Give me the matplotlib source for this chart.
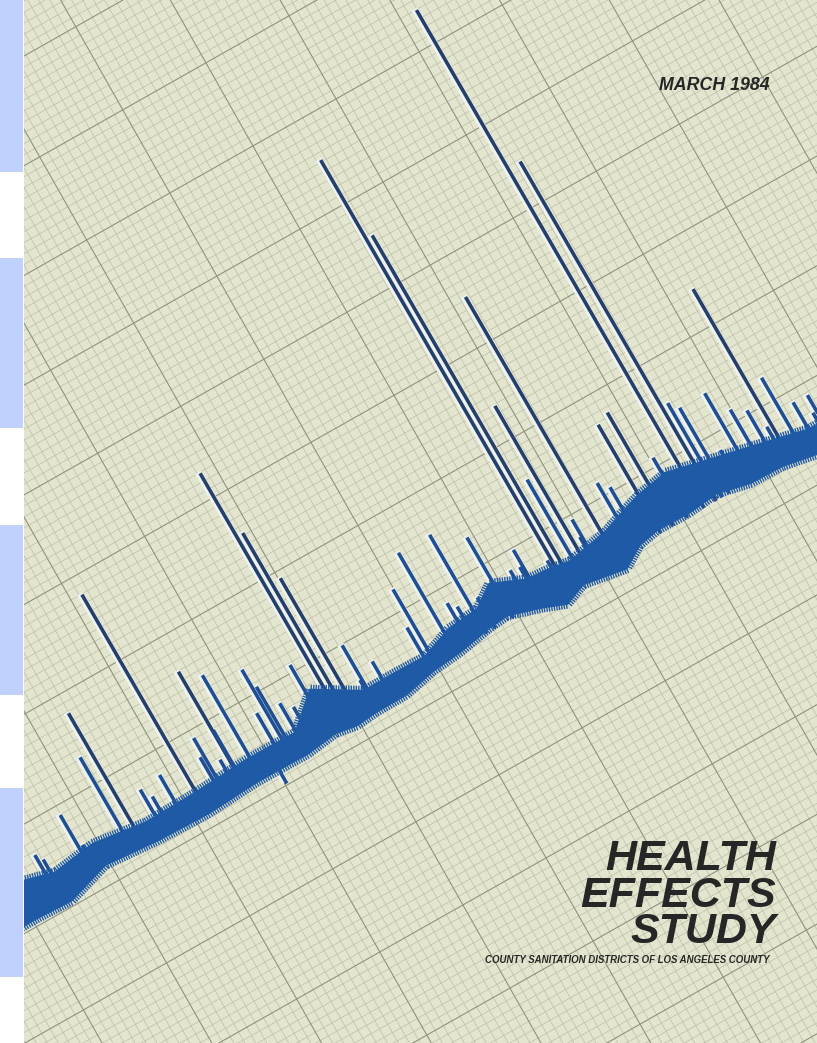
import numpy as np
import matplotlib
matplotlib.use('Agg')
import matplotlib.pyplot as plt
from matplotlib.collections import LineCollection
from matplotlib.patches import Rectangle, Polygon
from matplotlib.transforms import Affine2D
import matplotlib.patheffects as pe

# blue index tabs down the left margin (pixel rows)
tab_top = [0, 258, 525, 788]
tab_bottom = [172, 428, 695, 977]

# recorder band: distance along the chart, upper / lower edge of the pen band
band_u = [-30, 0, 40, 87, 144, 202, 260, 318, 352, 375, 398, 433, 468, 502,
          537, 560, 595, 618, 641, 687, 710, 733, 768, 802, 837, 872, 914, 960]
band_top = [20, 20, 9, 15, 7, 8, 11, 10, 40, 26, 12, 12, 11, 23,
            26, 42, 27, 25, 21, 29, 37, 44, 50, 42, 34, 26, 16, 16]
band_bot = [-22, -22, -24, -10, -15, -17, -14, -15, -11, -15, -13, -13, -6, -3,
            3, 5, -6, -15, -6, -14, 0, 4, 3, 6, -2, -3, -11, -11]

# spikes: distance along the chart, height above the baseline
spike_u = [784, 626, 633, 798, 683, 654, 365, 202, 131, 884,
           372, 382, 497, 533, 564, 474, 402, 347, 303, 266,
           247, 420, 598, 645, 664, 734, 748, 704, 713, 765,
           805, 813, 842, 856, 870, 899, 914, 930, 119, 73,
           31, 36, 179, 227, 223, 307, 319, 329, 926, 827,
           879, 248, 294, 400, 467, 514, 521, 585, 543, 595,
           622, 662, 155, 162, 77, 239, 285]
spike_h = [575, 493, 402, 392, 302, 193, 282, 236, 140, 195,
           209, 151, 114, 114, 93, 85, 62, 71, 91, 106,
           121, 33, 59, 113, 56, 125, 131, 75, 65, 69,
           109, 99, 99, 72, 63, 84, 47, 46, 96, 56,
           34, 26, 41, 56, 36, 69, 43, 33, 28, 42,
           39, 53, 46, 23, 45, 46, 38, 43, 36, 41,
           33, 37, 38, 26, 19, 24, -30]

title_lines = ['HEALTH', 'EFFECTS', 'STUDY']
subtitle = 'COUNTY SANITATION DISTRICTS OF LOS ANGELES COUNTY'
date_label = 'MARCH 1984'

W, H = 817, 1043
fig = plt.figure(figsize=(W / 100, H / 100), dpi=100, facecolor='white')
ax = fig.add_axes([0, 0, 1, 1])
ax.set_xlim(0, W)
ax.set_ylim(H, 0)
ax.axis('off')

for t, b in zip(tab_top, tab_bottom):
    ax.add_patch(Rectangle((0, t), 23, b - t, facecolor='#c1d1fe', lw=0))

paper = Rectangle((24, 0), W - 24, H, facecolor='#e4e5cf', edgecolor='none', zorder=1)
ax.add_patch(paper)

def clip(artist):
    # clip after adding, otherwise the axes patch takes over
    artist.set_clip_path(paper)
    return artist

# graph paper, tilted the same way as the photo
grid_tr = Affine2D().scale(95.5).rotate_deg(29.5).scale(1, -1).translate(86.7, 240) + ax.transData
k = np.arange(-140, 141)
minor = k[k % 10 != 0] / 10
major = k[k % 10 == 0] / 10
def grid_segs(vals):
    return [[(-14, g), (14, g)] for g in vals] + [[(g, -14), (g, 14)] for g in vals]
for vals, col, lw in [(minor, '#bbbea8', 0.5), (major, '#8f927f', 0.8)]:
    lc = LineCollection(grid_segs(vals), colors=col, linewidths=lw, transform=grid_tr, zorder=2)
    ax.add_collection(lc)
    clip(lc)

# the recorder trace
trace_tr = Affine2D().rotate_deg(30).scale(1, -1).translate(25, 900) + ax.transData
band_col = '#1f5aa6'

segs = [[(u, 0), (u, h)] for u, h in zip(spike_u, spike_h)]
cols = ['#243f69' if h > 120 else '#1f4f92' for h in spike_h]
spikes = LineCollection(segs, colors=cols, linewidths=2.6, transform=trace_tr, zorder=3,
                        path_effects=[pe.Stroke(linewidth=5, foreground='#eef2f0', offset=(-1.3, 0.6)),
                                      pe.Normal()])
ax.add_collection(spikes)
clip(spikes)

pts = list(zip(band_u, band_top)) + list(zip(band_u[::-1], band_bot[::-1]))
band = Polygon(pts, closed=True, facecolor=band_col, edgecolor='none', transform=trace_tr, zorder=4)
ax.add_patch(band)
clip(band)
for edge, ang in [(band_top, 90), (band_bot, -90)]:
    ln, = ax.plot(band_u, edge, color=band_col, lw=1.0, transform=trace_tr, zorder=4,
                  path_effects=[pe.withTickedStroke(angle=ang, spacing=1.8, length=1.6)])
    clip(ln)

# cover lettering
font = dict(family='Liberation Sans', fontweight='bold', fontstyle='italic', color='#262626', zorder=6)
ax.text(770, 90, date_label, ha='right', va='baseline', fontsize=12.8, **font)
ax.text(776, 839, '\n'.join(title_lines), ha='right', va='top', multialignment='right',
        linespacing=0.89, fontsize=31, **font)
ax.text(770, 963, subtitle, ha='right', va='baseline', fontsize=6.9, **font)

fig.savefig('out.png', dpi=100, facecolor='white')
